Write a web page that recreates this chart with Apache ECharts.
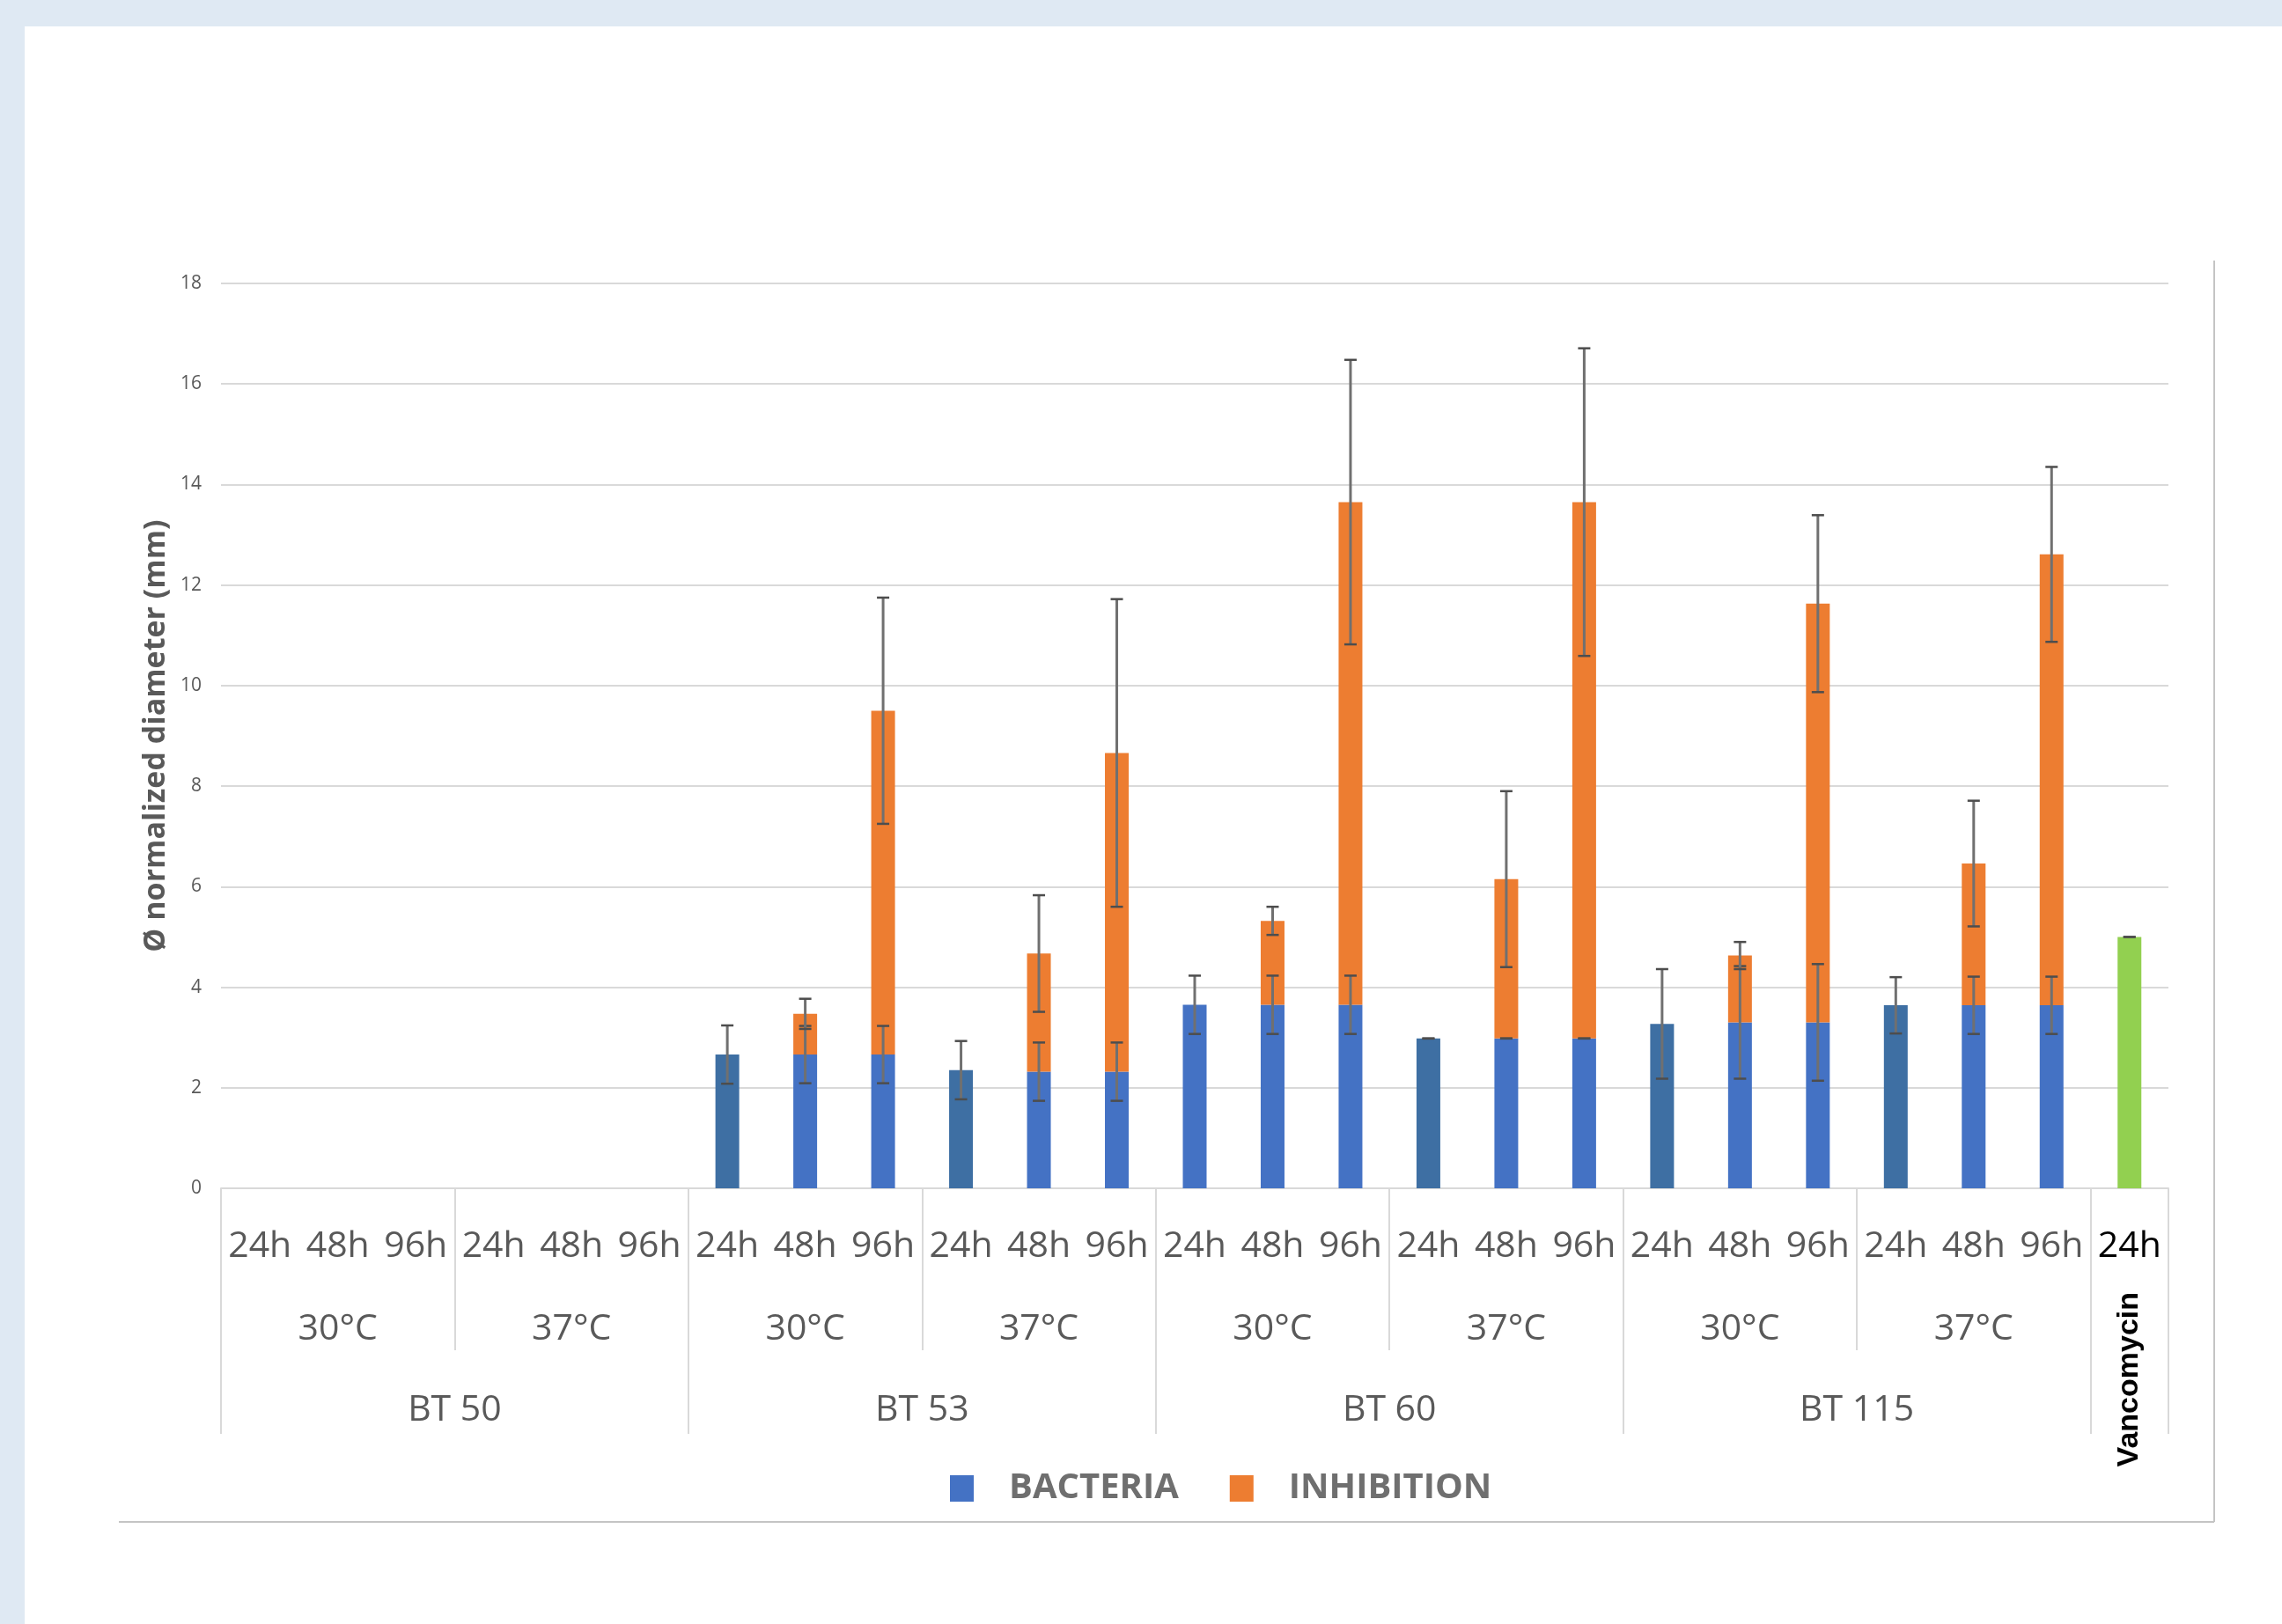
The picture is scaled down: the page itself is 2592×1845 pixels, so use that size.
<!DOCTYPE html>
<html><head><meta charset="utf-8">
<script src="https://cdn.jsdelivr.net/npm/echarts@6/dist/echarts.min.js"></script>
<style>
html,body{margin:0;padding:0;width:2592px;height:1845px;background:#dfe9f3;overflow:hidden}
#panel{position:absolute;left:28px;top:30px;right:0;bottom:0;background:#fff}
#chart{position:absolute;left:0;top:0;width:2592px;height:1845px}
</style></head><body>
<div id="panel"></div><div id="chart"></div>
<script>
// ---------------- data ----------------
const strains = ['BT 50', 'BT 53', 'BT 60', 'BT 115'];
const temperatures = ['30°C', '37°C'];
const times = ['24h', '48h', '96h'];
const control = 'Vancomycin';
const controlTime = '24h';
const yTicks = [0, 2, 4, 6, 8, 10, 12, 14, 16, 18];

// 25 categories: strain x temperature x time, then Vancomycin 24h
const bacteria = [
  null, null, null,  null, null, null,
  2.66, 2.66, 2.66,  2.35, 2.32, 2.32,
  3.65, 3.65, 3.65,  2.98, 2.98, 2.98,
  3.27, 3.30, 3.30,  3.64, 3.64, 3.64,
  null
];
const bacteriaSD = [
  null, null, null,  null, null, null,
  0.58, 0.57, 0.57,  0.58, 0.58, 0.58,
  0.58, 0.58, 0.58,  0, 0, 0,
  1.09, 1.12, 1.16,  0.56, 0.57, 0.57,
  null
];
const inhibition = [
  null, null, null,  null, null, null,
  null, 0.81, 6.84,  null, 2.35, 6.34,
  null, 1.67, 10.00, null, 3.17, 10.67,
  null, 1.33, 8.33,  null, 2.82, 8.97,
  null
];
const inhibitionSD = [
  null, null, null,  null, null, null,
  null, 0.30, 2.25,  null, 1.16, 3.06,
  null, 0.28, 2.83,  null, 1.75, 3.06,
  null, 0.27, 1.76,  null, 1.25, 1.74,
  null
];
const vancomycin = [
  null, null, null, null, null, null, null, null, null, null, null, null,
  null, null, null, null, null, null, null, null, null, null, null, null,
  5.0
];
const vancomycinSD = [
  null, null, null, null, null, null, null, null, null, null, null, null,
  null, null, null, null, null, null, null, null, null, null, null, null,
  0
];

// ---------------- build axes ----------------
const FONT = "'Open Sans', 'Noto Sans', sans-serif";
const GREY = '#595959';
const LINE = '#d9d9d9';
const shadedBars = [6, 9, 15, 18, 21];

const timeLabels = [];
strains.forEach(() => temperatures.forEach(() => times.forEach(h => timeLabels.push(h))));
timeLabels.push({ value: controlTime, textStyle: { color: '#000' } });
const nCat = timeLabels.length;        // 25
const nHalf = nCat * 2;                 // 50 half-steps -> 51 points
const tempLabels = [], strainLabels = [], controlLabels = [];
for (let k = 0; k <= nHalf; k++) { tempLabels.push(' ' + k); strainLabels.push(' ' + k); controlLabels.push(' ' + k); }
const tempText = {}, strainText = {}, controlText = {};
strains.forEach((s, si) => {
  strainText[si * 12 + 6] = s;
  temperatures.forEach((t, ti) => { tempText[si * 12 + ti * 6 + 3] = t; });
});
controlText[nHalf - 1] = control;

const stackCount = strains.length * temperatures.length * times.length * 2; // 48

function errSeries(name, centers, sds) {
  const data = [];
  centers.forEach((c, i) => { if (c != null && sds[i] != null) data.push([i, c, sds[i]]); });
  return {
    name: name, type: 'custom', z: 5, xAxisIndex: 0, yAxisIndex: 0,
    encode: { x: 0, y: 1 }, data: data, silent: true,
    renderItem: function (params, api) {
      const x = api.value(0), c = api.value(1), e = api.value(2);
      const top = api.coord([x, c + e]);
      const bot = api.coord([x, c - e]);
      const h = 7;
      const style = { stroke: '#4d4d4d', lineWidth: 2.5 };
      return { type: 'group', children: [
        { type: 'line', shape: { x1: top[0], y1: top[1], x2: bot[0], y2: bot[1] }, style: { stroke: '#707070', lineWidth: 3 } },
        { type: 'line', shape: { x1: top[0] - h, y1: top[1], x2: top[0] + h, y2: top[1] }, style: style },
        { type: 'line', shape: { x1: bot[0] - h, y1: bot[1], x2: bot[0] + h, y2: bot[1] }, style: style }
      ]};
    }
  };
}

const totals = inhibition.map((v, i) => v == null ? null : v + bacteria[i]);

const halfAxisBase = {
  type: 'category', position: 'bottom', boundaryGap: false, gridIndex: 0,
  axisLine: { show: false }, splitLine: { show: false },
};

const option = {
  animation: false,
  backgroundColor: 'transparent',
  textStyle: { fontFamily: FONT },
  grid: { left: 251, right: 129, top: 322, bottom: 495, containLabel: false },
  legend: {
    left: 1074, top: 1666, itemWidth: 27, itemHeight: 30, itemGap: 58, icon: 'rect',
    selectedMode: false,
    data: [{ name: 'BACTERIA', itemStyle: { color: '#4472C4' } }, { name: 'INHIBITION', itemStyle: { color: '#ED7D31' } }],
    textStyle: { fontSize: 40, fontWeight: 'bold', color: '#6f6f6f', fontFamily: FONT, padding: [0, 0, 0, 35] }
  },
  xAxis: [
    {
      type: 'category', position: 'bottom', data: timeLabels, boundaryGap: true,
      axisLine: { show: true, lineStyle: { color: LINE, width: 2 } },
      axisTick: { show: false },
      axisLabel: { interval: 0, fontSize: 41, color: GREY, margin: 46, fontFamily: FONT }
    },
    Object.assign({}, halfAxisBase, {
      data: tempLabels,
      axisTick: { show: true, length: 184, interval: (i) => i % 6 === 0 && i % 12 !== 0 && i < stackCount, lineStyle: { color: LINE, width: 2 } },
      axisLabel: { interval: 0, fontSize: 41, color: GREY, margin: 140, fontFamily: FONT,
        formatter: (v, i) => tempText[i] || '' }
    }),
    Object.assign({}, halfAxisBase, {
      data: strainLabels,
      axisTick: { show: true, length: 279, interval: (i) => i % 12 === 0 || i === nHalf, lineStyle: { color: LINE, width: 2 } },
      axisLabel: { interval: 0, fontSize: 41, color: GREY, margin: 232, fontFamily: FONT,
        formatter: (v, i) => strainText[i] || '' }
    }),
    Object.assign({}, halfAxisBase, {
      data: controlLabels,
      axisTick: { show: false },
      axisLabel: { interval: 0, rotate: 90, fontSize: 34, fontWeight: 'bold', color: '#000', margin: 118,
        fontFamily: "'Liberation Sans', Arial, sans-serif",
        formatter: (v, i) => controlText[i] || '' }
    })
  ],
  yAxis: {
    type: 'value', min: yTicks[0], max: yTicks[yTicks.length - 1], interval: yTicks[1] - yTicks[0],
    axisLine: { show: false }, axisTick: { show: false },
    splitLine: { lineStyle: { color: LINE, width: 2 } },
    axisLabel: { fontSize: 21, color: GREY, margin: 22, fontFamily: FONT },
    name: 'Ø normalized diameter (mm)', nameLocation: 'middle', nameGap: 53,
    nameTextStyle: { fontSize: 34, fontWeight: 'bold', color: GREY, fontFamily: FONT }
  },
  series: [
    { name: 'BACTERIA', type: 'bar', stack: 'd', barWidth: 27, data: bacteria,
      itemStyle: { color: (p) => shadedBars.indexOf(p.dataIndex) >= 0 ? '#3e6fa3' : '#4472C4' } },
    { name: 'INHIBITION', type: 'bar', stack: 'd', barWidth: 27, data: inhibition, itemStyle: { color: '#ED7D31' } },
    { name: 'Vancomycin', type: 'bar', stack: 'd', barWidth: 27, data: vancomycin, itemStyle: { color: '#92D050' } },
    errSeries('BACTERIA SD', bacteria, bacteriaSD),
    errSeries('INHIBITION SD', totals, inhibitionSD),
    errSeries('Vancomycin SD', vancomycin, vancomycinSD)
  ],
  graphic: [
    { type: 'line', silent: true, shape: { x1: 2515, y1: 296, x2: 2515, y2: 1729 }, style: { stroke: '#c4c4c4', lineWidth: 2 } },
    { type: 'line', silent: true, shape: { x1: 135, y1: 1729, x2: 2515, y2: 1729 }, style: { stroke: '#c4c4c4', lineWidth: 2 } }
  ]
};

const chart = echarts.init(document.getElementById('chart'), null, { renderer: 'canvas' });
chart.setOption(option);
</script></body></html>
